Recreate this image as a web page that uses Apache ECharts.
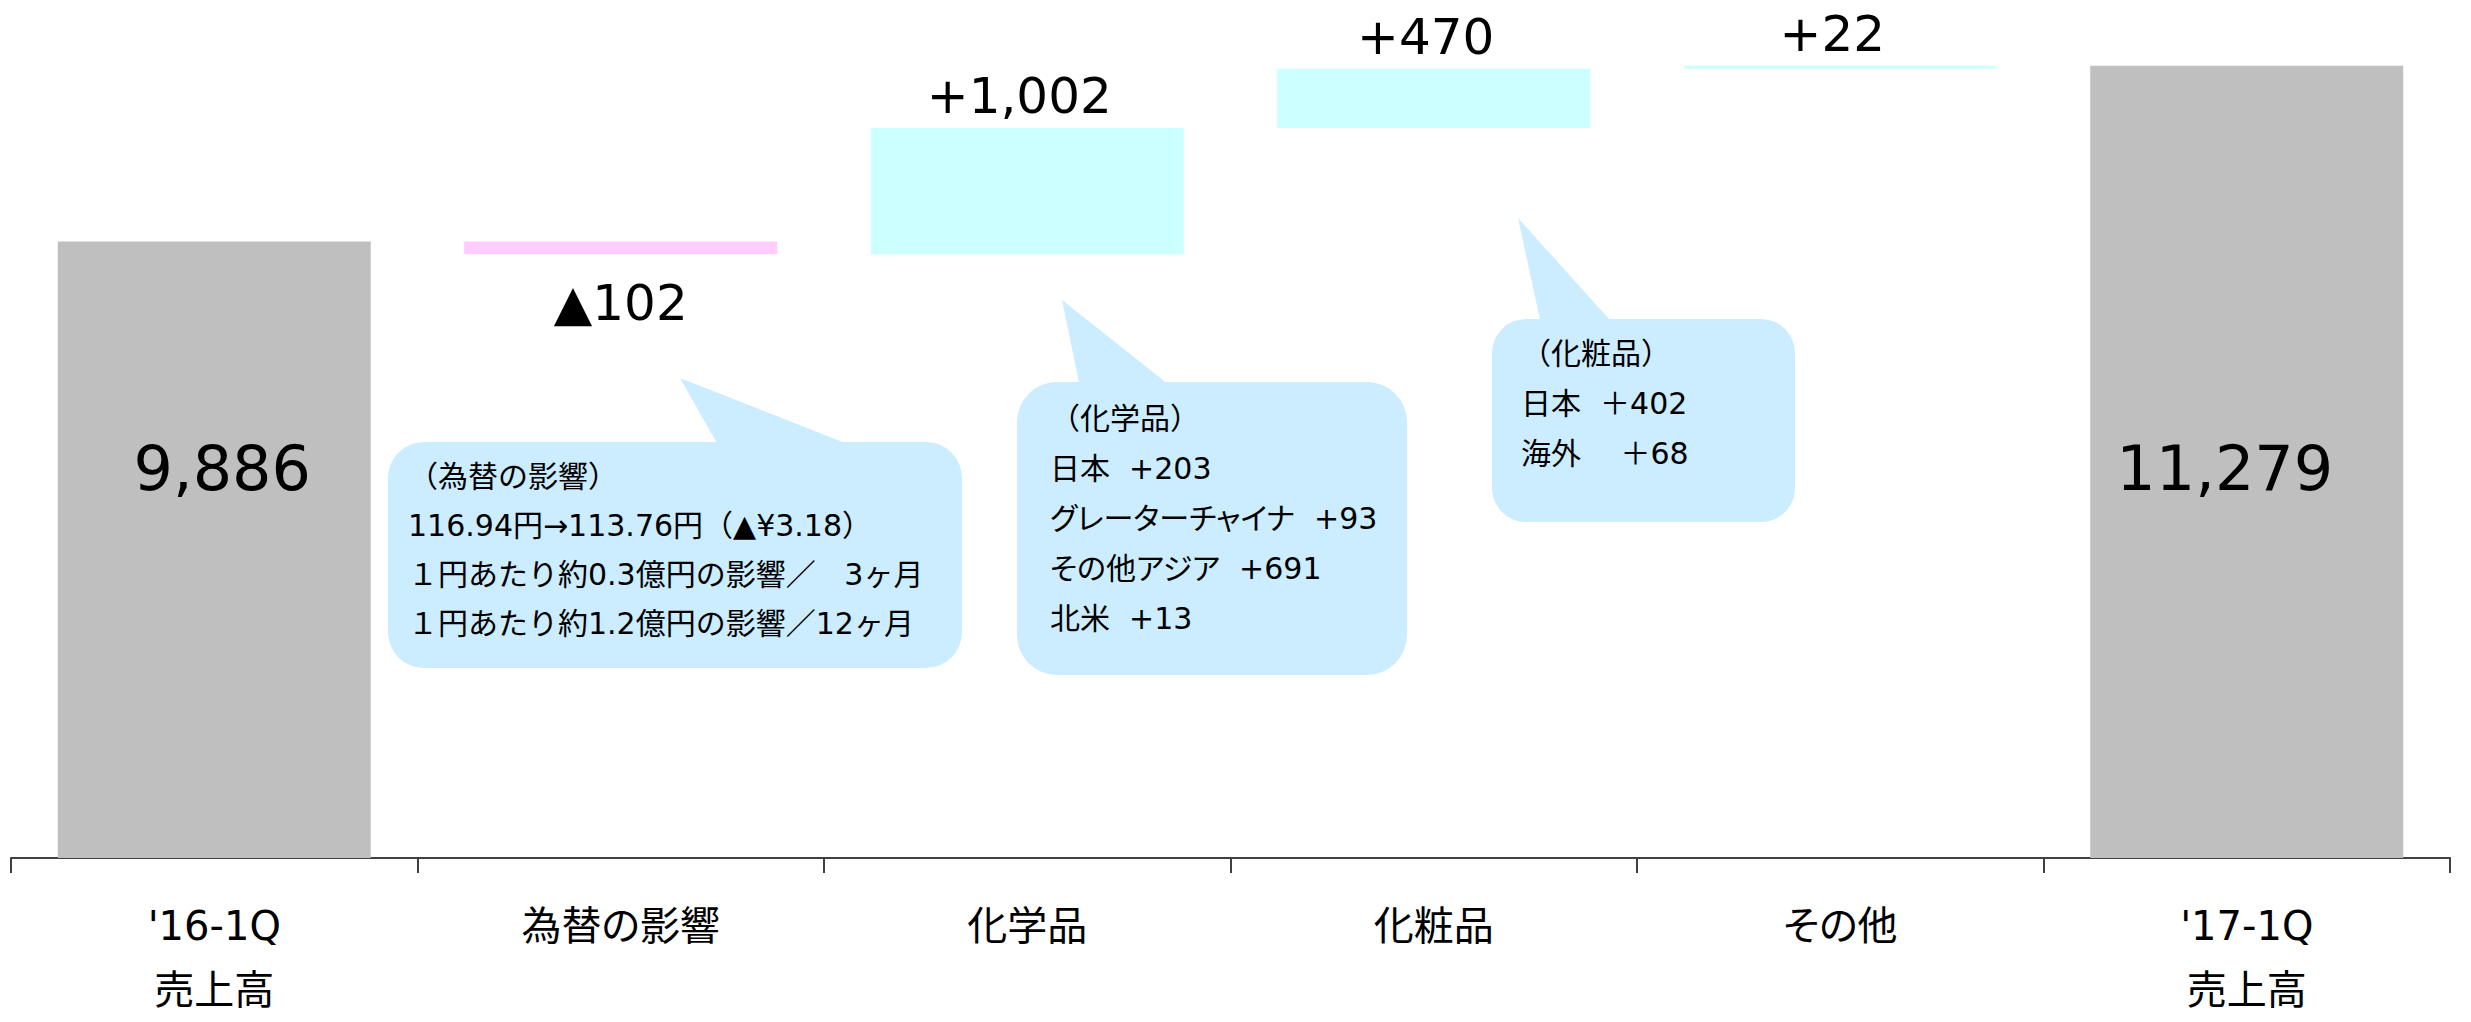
<!DOCTYPE html>
<html>
<head>
<meta charset="utf-8">
<script src="https://cdn.jsdelivr.net/npm/echarts@6/dist/echarts.min.js"></script>
<style>
html,body{margin:0;padding:0;background:#fff;}
#chart{width:2471px;height:1022px;}
</style>
</head>
<body>
<div id="chart"></div>
<script>
// ---- data ----
const categories = ["'16-1Q\n売上高", "為替の影響", "化学品", "化粧品", "その他", "'17-1Q\n売上高"];
const values = [9886, -102, 1002, 470, 22, 11279];
const kinds = ["total", "delta", "delta", "delta", "delta", "total"];

const NB = "\u00A0";   // non-collapsing space
const calloutFx = ["（為替の影響）", "116.94円→113.76円（▲¥3.18）", "１円あたり約0.3億円の影響／" + NB + NB + NB + "3ヶ月", "１円あたり約1.2億円の影響／12ヶ月"];
const calloutChem = ["（化学品）", "日本" + NB + NB + "+203", "グレーターチャイナ" + NB + NB + "+93", "その他アジア" + NB + NB + "+691", "北米" + NB + NB + "+13"];
const calloutCos = ["（化粧品）", "日本" + NB + NB + "＋402", "海外　" + NB + "＋68"];

// ---- waterfall decomposition ----
const base = [], height = [];
let run = 0;
values.forEach((v, i) => {
  if (kinds[i] === "total") { base.push(0); height.push(v); run = v; }
  else if (v < 0) { base.push(run + v); height.push(-v); run += v; }
  else { base.push(run); height.push(v); run += v; }
});

const FONT = "'DejaVu Sans', 'Noto Sans CJK JP', sans-serif";
const COLORS = { total: "#BFBFBF", neg: "#FFCCFF", pos: "#CCFFFF" };
const TOTAL_DX = [8, 0, 0, 0, 0, -22];

function fmtLabel(i) {
  const v = values[i];
  const s = Math.abs(v).toLocaleString("en-US");
  if (kinds[i] === "total") return s;
  return (v < 0 ? "▲" : "+") + s;
}

function buildDeltaData(totalOffsets) {
  return height.map((h, i) => {
    const k = kinds[i] === "total" ? "total" : (values[i] < 0 ? "neg" : "pos");
    let label;
    if (k === "total") {
      label = { show: true, position: ["50%", totalOffsets ? totalOffsets[i] : 0], offset: [TOTAL_DX[i], 0], align: "center", verticalAlign: "middle", fontSize: 62, lineHeight: 62 };
    } else if (k === "neg") {
      label = { show: true, position: "bottom", distance: 24, fontSize: 50, lineHeight: 50 };
    } else {
      label = { show: true, position: "top", distance: 7, offset: [-8, 0], fontSize: 50, lineHeight: 50 };
    }
    label.formatter = () => fmtLabel(i);
    label.color = "#000";
    label.fontFamily = FONT;
    return { value: h, itemStyle: { color: COLORS[k] }, label };
  });
}

function callout(box, pointer, lines, textPos, lh) {
  return {
    type: "group",
    children: [
      { type: "polygon", shape: { points: pointer }, style: { fill: "#CCECFF" } },
      { type: "rect", shape: { x: box[0], y: box[1], width: box[2], height: box[3], r: box[4] }, style: { fill: "#CCECFF" } },
      { type: "text", x: textPos[0], y: textPos[1], style: { text: lines.join("\n"), font: "30px " + FONT, lineHeight: lh, fill: "#000", verticalAlign: "top", align: "left" } }
    ]
  };
}

const chart = echarts.init(document.getElementById("chart"), null, { renderer: "svg" });

const option = {
  animation: false,
  backgroundColor: "#fff",
  grid: { left: 11, right: 21, top: 0, bottom: 153 },
  xAxis: {
    type: "category",
    data: categories,
    axisLine: { lineStyle: { color: "#404040", width: 2 } },
    axisTick: { show: true, length: 15, lineStyle: { color: "#404040", width: 2 } },
    axisLabel: { color: "#000", fontSize: 40, lineHeight: 64, margin: 36, fontFamily: FONT, interval: 0 }
  },
  yAxis: { type: "value", min: 5000, max: 11800, show: false, splitLine: { show: false } },
  series: [
    { type: "bar", stack: "w", data: base, itemStyle: { color: "transparent" }, barCategoryGap: "23%", silent: true, clip: true },
    { type: "bar", stack: "w", data: buildDeltaData(null), barCategoryGap: "23%", clip: true }
  ],
  graphic: [
    callout([388, 442, 574, 226, 36], [[680, 378], [722, 452], [868, 452]], calloutFx, [408, 452], 49),
    callout([1017, 382, 390, 293, 40], [[1062, 300], [1081, 392], [1178, 392]], calloutChem, [1050, 393], 50),
    callout([1492, 319, 303, 203, 34], [[1518, 218], [1542, 329], [1618, 329]], calloutCos, [1521, 328], 50)
  ]
};

chart.setOption(option);

// position total labels at a common height (center ~468px from top)
const LABEL_Y = 468;
const offsets = values.map((v, i) => {
  if (kinds[i] !== "total") return 0;
  const top = chart.convertToPixel({ yAxisIndex: 0 }, v);
  return LABEL_Y - top;
});
chart.setOption({ series: [{}, { data: buildDeltaData(offsets) }] });

// proportional kana metrics (like the original UI font), but keep full-width brackets/digits/plus
document.querySelectorAll("#chart svg text").forEach(t => {
  if (!/[（）１＋]/.test(t.textContent)) t.style.fontFeatureSettings = '"palt" 1';
});
</script>
</body>
</html>
